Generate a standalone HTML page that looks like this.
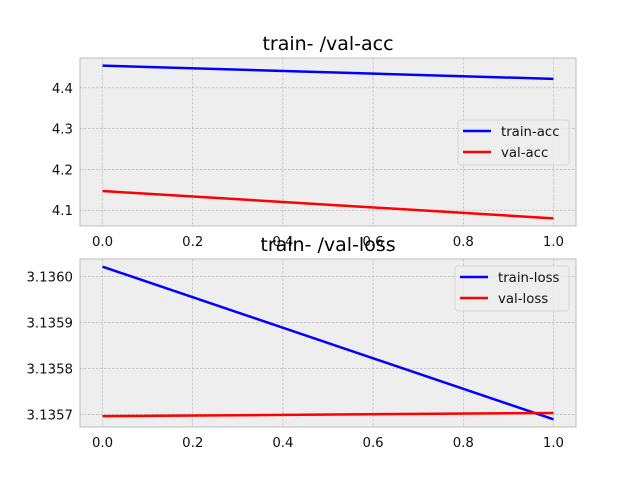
<!DOCTYPE html>
<html><head><meta charset="utf-8"><style>
body{margin:0;background:#fff}
svg{display:block;font-family:"DejaVu Sans","Liberation Sans",sans-serif}
</style></head><body>
<svg id="c" width="640" height="480" xmlns="http://www.w3.org/2000/svg"></svg>
<script>
const xs = [0, 1];
const trainAcc = [4.4545, 4.422];
const valAcc = [4.147, 4.080];
const trainLoss = [3.136022, 3.135689];
const valLoss = [3.135696, 3.135703];
const xTicks = [0, 0.2, 0.4, 0.6, 0.8, 1.0];
const accTicks = [4.1, 4.2, 4.3, 4.4];
const lossTicks = [3.1357, 3.1358, 3.1359, 3.1360];

const svg = document.getElementById('c');
const NS = 'http://www.w3.org/2000/svg';
function el(tag, attrs, parent){const e=document.createElementNS(NS,tag);for(const k in attrs)e.setAttribute(k,attrs[k]);(parent||svg).appendChild(e);return e;}

function panel(top, bottom, title, series, yTicks, dec, legend, name){
  const L=80,R=576;
  const all=[].concat(...series.map(s=>s.v));
  let mn=Math.min(...all), mx=Math.max(...all), m=(mx-mn)*0.05;
  const y0=mn-m, y1=mx+m;
  const sx=v=>L+(v+0.05)/1.1*(R-L);
  const sy=v=>bottom-(v-y0)/(y1-y0)*(bottom-top);
  const g=el('g',{});
  
  
  el('rect',{x:L,y:top,width:R-L,height:bottom-top,fill:'#eeeeee'},g);
  xTicks.forEach(t=>{
    const x=sx(t);
    el('line',{x1:x,x2:x,y1:top,y2:bottom,stroke:'#b2b2b2','stroke-width':0.6,'stroke-dasharray':'2.5,1.5'},g);
    const tx=el('text',{x:x,y:bottom+20,'text-anchor':'middle','font-size':13.3,fill:'#111'},g);
    tx.textContent=t.toFixed(1);
    
    
  });
  yTicks.forEach(t=>{
    const y=sy(t);
    el('line',{x1:L,x2:R,y1:y,y2:y,stroke:'#b2b2b2','stroke-width':0.6,'stroke-dasharray':'2.5,1.5'},g);
    const tx=el('text',{x:L-7,y:y+5,'text-anchor':'end','font-size':13.3,fill:'#111'},g);
    tx.textContent=t.toFixed(dec);
    
    
  });
  el('rect',{x:L,y:top,width:R-L,height:bottom-top,fill:'none',stroke:'#bcbcbc','stroke-width':1},g);
  series.forEach(s=>{
    const p=el('polyline',{points:xs.map((x,i)=>sx(x)+','+sy(s.v[i])).join(' '),fill:'none',stroke:s.c,'stroke-width':2.5},g);
    
    
  });
  const t=el('text',{x:(L+R)/2,y:top-8,'text-anchor':'middle','font-size':19,fill:'#000'},g);
  t.textContent=title;
  
  
  const lg=el('g',{},g);
  
  
  el('rect',{x:legend.x,y:legend.y,width:legend.w,height:45,rx:3,fill:'#eeeeee','fill-opacity':0.8,stroke:'#d5d5d5'},lg);
  series.forEach((s,i)=>{
    const yy=legend.y+11+i*21;
    el('line',{x1:legend.x+5,x2:legend.x+33,y1:yy,y2:yy,stroke:s.c,'stroke-width':2.5},lg);
    const tx=el('text',{x:legend.x+43,y:yy+5,'font-size':13.3,fill:'#111'},lg);
    tx.textContent=s.n;
    
    
  });
}
panel(58,226,'train- /val-acc',[{n:'train-acc',c:'#0000ff',v:trainAcc},{n:'val-acc',c:'#ff0000',v:valAcc}],accTicks,1,{x:458,y:120,w:111},'acc-panel');
panel(259,427,'train- /val-loss',[{n:'train-loss',c:'#0000ff',v:trainLoss},{n:'val-loss',c:'#ff0000',v:valLoss}],lossTicks,4,{x:455,y:266,w:114},'loss-panel');
</script>
</body></html>
